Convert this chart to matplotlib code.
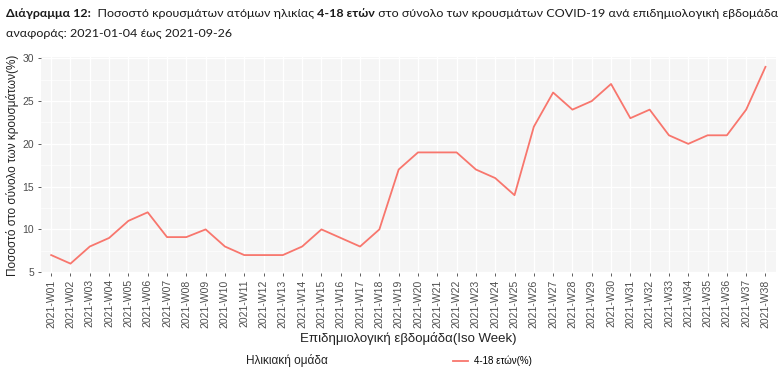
import matplotlib
matplotlib.use("Agg")
import matplotlib.pyplot as plt
from matplotlib.lines import Line2D
from matplotlib import font_manager

weeks = [f"2021-W{i:02d}" for i in range(1, 39)]
pct = [7, 6, 8, 9, 11, 12, 9.1, 9.1, 10, 8, 7, 7, 7, 8, 10, 9, 8, 10, 17, 19,
       19, 19, 17, 16, 14, 22, 26, 24, 25, 27, 23, 24, 21, 20, 21, 21, 24, 29]
series_label = "4-18 ετών(%)"
legend_title = "Ηλικιακή ομάδα"

names = {f.name for f in font_manager.fontManager.ttflist}
title_font = "Liberation Sans Narrow" if "Liberation Sans Narrow" in names else "Lato"
plt.rcParams["font.family"] = ["Liberation Sans", "DejaVu Sans"]

fig = plt.figure(figsize=(7.8, 3.73), dpi=100)
ax = fig.add_axes([0.052, 0.268, 0.943, 0.578])

x = list(range(len(weeks)))
ax.plot(x, pct, color="#F8766D", lw=1.3)

ax.set_facecolor("#F5F5F5")
ax.set_xlim(-0.55, len(weeks) - 0.45)
ax.set_ylim(4.9, 30.1)
ax.set_yticks([5, 10, 15, 20, 25, 30])
ax.set_yticks([7.5, 12.5, 17.5, 22.5, 27.5], minor=True)
ax.set_xticks(x)
ax.set_xticklabels(weeks, rotation=90)
ax.grid(True, which="major", color="white", lw=0.9)
ax.grid(True, which="minor", axis="y", color="white", lw=0.5)
ax.set_axisbelow(True)
for s in ax.spines.values():
    s.set_visible(False)
ax.tick_params(axis="both", which="major", colors="#444444", labelcolor="#4D4D4D",
               labelsize=7.5, length=2.5, width=0.6, pad=2)
ax.tick_params(axis="y", which="minor", length=0)
ax.set_ylabel("Ποσοστό στο σύνολο των κρουσμάτων(%)", fontsize=8.5, color="#222222", labelpad=3)
ax.set_xlabel("Επιδημιολογική εβδομάδα(Iso Week)", fontsize=9.5, color="#222222", labelpad=3)

# title in pieces (bold / regular)
tfs = 10
t1 = fig.text(0.008, 0.955, "Διάγραμμα 12:", fontsize=tfs, fontweight="bold",
              family=title_font, color="#1a1a1a")
t2 = ax.annotate("  Ποσοστό κρουσμάτων ατόμων ηλικίας ", xy=(1, 0), xycoords=t1,
                 va="bottom", fontsize=tfs, family=title_font, color="#1a1a1a",
                 annotation_clip=False)
t3 = ax.annotate("4-18 ετών", xy=(1, 0), xycoords=t2, va="bottom", fontsize=tfs,
                 fontweight="bold", family=title_font, color="#1a1a1a", annotation_clip=False)
t4 = ax.annotate(" στο σύνολο των κρουσμάτων COVID-19 ανά επιδημιολογική εβδομάδα",
                 xy=(1, 0), xycoords=t3, va="bottom", fontsize=tfs, family=title_font,
                 color="#1a1a1a", annotation_clip=False)
t5 = fig.text(0.008, 0.9, "αναφοράς: 2021-01-04 έως 2021-09-26", fontsize=tfs,
              family=title_font, color="#1a1a1a")

# shrink the title so the first line fits the width
fig.canvas.draw()
r = fig.canvas.get_renderer()
right = t4.get_window_extent(r).x1
avail = fig.bbox.width * 0.995
if right > avail:
    k = (avail - t1.get_window_extent(r).x0) / (right - t1.get_window_extent(r).x0)
    for t in (t1, t2, t3, t4, t5):
        t.set_fontsize(tfs * k)

# legend
fig.text(0.315, 0.025, legend_title, fontsize=8.5, color="#222222")
handle = Line2D([], [], color="#F8766D", lw=1.3)
leg = fig.legend([handle], [series_label], loc="lower left", bbox_to_anchor=(0.57, -0.005),
                 frameon=False, fontsize=7, handlelength=1.5, handletextpad=0.6)

fig.savefig("out.png", dpi=100)
